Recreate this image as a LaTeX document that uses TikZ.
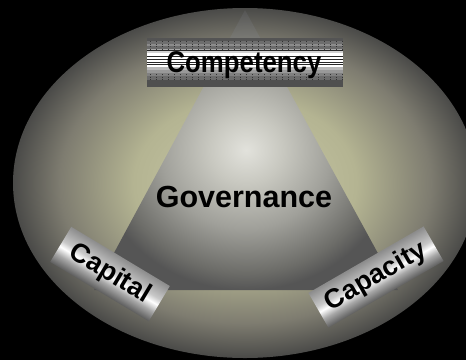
\documentclass[tikz,border=0pt]{standalone}
\usepackage{fontspec}
\setmainfont{Liberation Sans}
\definecolor{e0}{HTML}{CACAA8}
\definecolor{e1}{HTML}{B4B492}
\definecolor{e2}{HTML}{7E7C70}
\definecolor{e3}{HTML}{4A4A48}
\definecolor{t0}{HTML}{E2E2DC}
\definecolor{t1}{HTML}{C8C8C0}
\definecolor{t2}{HTML}{A0A09A}
\definecolor{t3}{HTML}{6C6C68}
\definecolor{t4}{HTML}{555555}
\definecolor{m0}{HTML}{8C8C8C}
\definecolor{m1}{HTML}{C8C8C8}
\definecolor{m2}{HTML}{FFFFFF}
\definecolor{m3}{HTML}{A8A8A8}
\definecolor{m4}{HTML}{5E5E5E}
\pgfdeclareradialshading{ellsh}{\pgfpointorigin}{color(0bp)=(e0); color(12bp)=(e1); color(20bp)=(e2); color(25bp)=(e3); color(50bp)=(e3)}
\pgfdeclareradialshading{trish}{\pgfpointorigin}{color(0bp)=(t0); color(6bp)=(t1); color(14bp)=(t2); color(22bp)=(t3); color(25bp)=(t4); color(50bp)=(t4)}
\pgfdeclareverticalshading{metalsh}{100bp}{color(0bp)=(m4); color(25bp)=(m4); color(37.5bp)=(m3); color(47.5bp)=(m2); color(55bp)=(m1); color(75bp)=(m0); color(100bp)=(m0)}
\tikzset{
  lbl/.style={font=\fontsize{27}{30}\selectfont\bfseries, text=black, inner sep=0pt},
  biglbl/.style={font=\fontsize{30.5}{34}\selectfont\bfseries, text=black, inner sep=0pt},
  metalbox/.style={shading=metalsh}
}
\begin{document}
\begin{tikzpicture}[x=1pt,y=-1pt]
\fill[black] (0,0) rectangle (466,360);
\useasboundingbox (0,0) rectangle (466,360);
% outer ellipse
\shade[shading=ellsh] (245,183) ellipse [x radius=232pt, y radius=175pt];
% triangle
\shade[shading=trish] (245,10) -- (94,290) -- (398,290) -- cycle;
% Competency striped box
\foreach \ya/\yb/\g in {38/40.5/33, 40.5/43.5/43, 43.5/46/55, 46/49/42, 49/51/66, 51/53/82, 53/67/100, 67/70/72, 70/73/60, 73/76/50, 76/80/42, 80/87/31}
  \fill[white!\g!black] (147,\ya) rectangle (343,\yb);
\foreach \y in {50.7,56.7,59.3,62,64.7}
  \draw[black!85, line width=0.8pt] (147,\y) -- (343,\y);
\foreach \x in {150,156,...,342}
  \draw[black!80, line width=0.6pt, dash pattern=on 1pt off 1.5pt] (\x,41) -- (\x,49) (\x,74) -- (\x,80);
\node[biglbl, anchor=base] (competency) at (244,72.5) {\scalebox{0.86}[1]{\fontsize{30}{34}\selectfont Competency}};
% Governance
\node[biglbl, anchor=base] (governance) at (244,207) {Governance};
% Capital box
\begin{scope}[transform canvas={shift={(110,274)}, rotate=-31}]
  \shade[metalbox] (-57.5,-20.5) rectangle (57.5,20.5);
\end{scope}
\node[lbl, rotate=-31] (capital) at (110,274) {Capital};
% Capacity box
\begin{scope}[transform canvas={shift={(376,277)}, rotate=30}]
  \shade[metalbox] (-66.5,-20) rectangle (66.5,20);
\end{scope}
\node[lbl, rotate=30] (capacity) at (376,277) {Capacity};
\end{tikzpicture}
\end{document}
